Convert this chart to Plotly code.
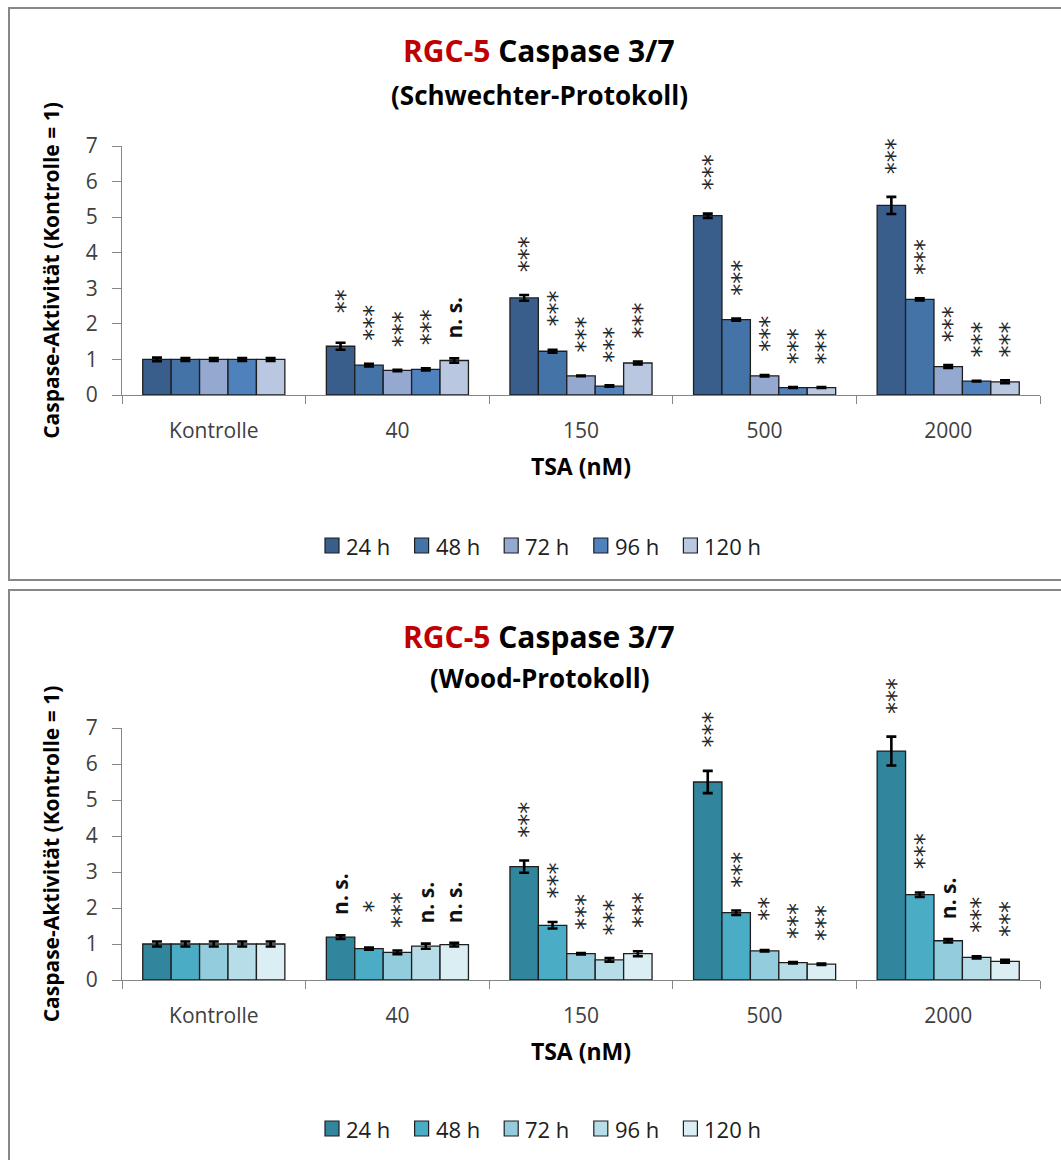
import plotly.graph_objects as go

# --- data -------------------------------------------------------------
doses = ["Kontrolle", "40", "150", "500", "2000"]
times = ["24 h", "48 h", "72 h", "96 h", "120 h"]

# Schwechter protocol: mean activity per time point across doses
schw_vals = {
    "24 h":  [1.0, 1.37, 2.73, 5.04, 5.33],
    "48 h":  [1.0, 0.84, 1.23, 2.12, 2.69],
    "72 h":  [1.0, 0.69, 0.54, 0.54, 0.80],
    "96 h":  [1.0, 0.72, 0.25, 0.21, 0.39],
    "120 h": [1.0, 0.97, 0.90, 0.21, 0.37],
}
schw_err = {
    "24 h":  [0.05, 0.10, 0.08, 0.06, 0.24],
    "48 h":  [0.04, 0.04, 0.04, 0.03, 0.03],
    "72 h":  [0.04, 0.02, 0.01, 0.02, 0.04],
    "96 h":  [0.04, 0.03, 0.02, 0.01, 0.01],
    "120 h": [0.04, 0.06, 0.04, 0.01, 0.04],
}
schw_sig = {
    "24 h":  ["", "**", "***", "***", "***"],
    "48 h":  ["", "***", "***", "***", "***"],
    "72 h":  ["", "***", "***", "***", "***"],
    "96 h":  ["", "***", "***", "***", "***"],
    "120 h": ["", "n. s.", "***", "***", "***"],
}

# Wood protocol
wood_vals = {
    "24 h":  [1.0, 1.19, 3.15, 5.50, 6.36],
    "48 h":  [1.0, 0.87, 1.52, 1.87, 2.37],
    "72 h":  [1.0, 0.77, 0.73, 0.81, 1.09],
    "96 h":  [1.0, 0.94, 0.56, 0.48, 0.63],
    "120 h": [1.0, 0.98, 0.73, 0.44, 0.52],
}
wood_err = {
    "24 h":  [0.07, 0.05, 0.17, 0.31, 0.40],
    "48 h":  [0.07, 0.03, 0.09, 0.06, 0.06],
    "72 h":  [0.07, 0.05, 0.02, 0.02, 0.05],
    "96 h":  [0.07, 0.07, 0.05, 0.02, 0.03],
    "120 h": [0.07, 0.05, 0.07, 0.02, 0.04],
}
wood_sig = {
    "24 h":  ["", "n. s.", "***", "***", "***"],
    "48 h":  ["", "*", "***", "***", "***"],
    "72 h":  ["", "***", "***", "**", "n. s."],
    "96 h":  ["", "n. s.", "***", "***", "***"],
    "120 h": ["", "n. s.", "***", "***", "***"],
}

schw_colors = ["#3A5E8C", "#4473A8", "#95A8D0", "#4F81BD", "#B9C7E1"]
wood_colors = ["#31859C", "#4BACC6", "#93CDDD", "#B7DEE8", "#DAEEF3"]

# --- layout geometry (pixels of the 1061 x 1160 page) ------------------
W, H = 1061, 1160
BARGAP = 0.226
FONT = "Open Sans"
OUTLINE = "#1E1E1E"


def px_x(p):
    return p / W


def px_y(p):
    return 1 - p / H


fig = go.Figure()
annotations = []
shapes = []

panels = [
    # x-axis, y-axis, values, errors, labels, colours, title y, subtitle, legend y
    ("x", "y", schw_vals, schw_err, schw_sig, schw_colors, 50, 95,
     "(Schwechter-Protokoll)", 545.5),
    ("x2", "y2", wood_vals, wood_err, wood_sig, wood_colors, 636, 678,
     "(Wood-Protokoll)", 1128.5),
]

n = len(times)
bw = (1 - BARGAP) / n
for xa, ya, vals, errs, sigs, colors, y_t, y_s, sub, y_leg in panels:
    for i, t in enumerate(times):
        fig.add_trace(go.Bar(
            x=doses, y=vals[t], name=t, xaxis=xa, yaxis=ya, showlegend=False,
            marker=dict(color=colors[i], line=dict(color=OUTLINE, width=1.3)),
            error_y=dict(type="data", array=errs[t], color="black",
                         thickness=2.6, width=5),
        ))
        # significance labels above each bar, rotated to read upwards
        for j, lab in enumerate(sigs[t]):
            if not lab:
                continue
            xc = j - (1 - BARGAP) / 2 + bw * (i + 0.5)
            is_ns = lab == "n. s."
            annotations.append(dict(
                x=xc, y=vals[t][j] + errs[t][j], xref=xa, yref=ya,
                text=lab, showarrow=False, textangle=-90,
                xanchor="center", yanchor="middle",
                yshift=41, xshift=0 if is_ns else 4,
                font=dict(family=FONT if is_ns else "DejaVu Sans",
                          size=21 if is_ns else 24,
                          color="#111111" if is_ns else "#262626",
                          weight="bold" if is_ns else "normal"),
            ))

        # legend entry: outlined swatch followed by its label
        lx = 325 + i * 89.6
        shapes.append(dict(
            type="rect", xref="paper", yref="paper",
            x0=px_x(lx), x1=px_x(lx + 14),
            y0=px_y(y_leg + 7.5), y1=px_y(y_leg - 7.5),
            fillcolor=colors[i], line=dict(color=OUTLINE, width=1.2)))
        annotations.append(dict(
            x=px_x(lx + 19), y=px_y(y_leg), xref="paper", yref="paper",
            text=t, showarrow=False, xanchor="left", yanchor="middle",
            font=dict(family=FONT, size=22, color="#202020")))

    # chart title and subtitle
    annotations.append(dict(
        x=px_x(539), y=px_y(y_t), xref="paper", yref="paper", showarrow=False,
        text="<b><span style='color:#C00000'>RGC-5</span> Caspase 3/7</b>",
        font=dict(family=FONT, size=30, color="black"),
        xanchor="center", yanchor="middle"))
    annotations.append(dict(
        x=px_x(539), y=px_y(y_s), xref="paper", yref="paper", showarrow=False,
        text="<b>" + sub + "</b>",
        font=dict(family=FONT, size=26, color="black"),
        xanchor="center", yanchor="middle"))

axis_font = dict(family=FONT, size=21, color="#404040")
xcommon = dict(
    type="category", showline=True, linecolor="#868686", linewidth=1.3,
    ticks="outside", tickson="boundaries", ticklen=8, tickcolor="#868686",
    tickfont=axis_font, ticklabelstandoff=17, showgrid=False, automargin=False,
    title=dict(text="<b>TSA (nM)</b>", font=dict(family=FONT, size=23, color="black"),
               standoff=15),
    domain=[px_x(122), px_x(1040)], fixedrange=True,
)
ycommon = dict(
    range=[0, 7], dtick=1, showline=True, linecolor="#868686", linewidth=1.3,
    ticks="outside", ticklen=9, tickcolor="#868686", tickfont=axis_font,
    ticklabelstandoff=10, showgrid=False, zeroline=False, automargin=False,
    title=dict(text="<b>Caspase-Aktivität (Kontrolle = 1)</b>",
               font=dict(family=FONT, size=21, color="black"), standoff=20),
)

shapes += [
    dict(type="rect", xref="paper", yref="paper",
         x0=px_x(9), x1=1.05, y0=px_y(580), y1=px_y(8),
         line=dict(color="#878787", width=2)),
    dict(type="rect", xref="paper", yref="paper",
         x0=px_x(9), x1=1.05, y0=-0.05, y1=px_y(590),
         line=dict(color="#878787", width=2)),
]

fig.update_layout(
    width=W, height=H,
    margin=dict(l=0, r=0, t=0, b=0, pad=0, autoexpand=False),
    paper_bgcolor="white", plot_bgcolor="white",
    barmode="group", bargap=BARGAP, bargroupgap=0,
    xaxis=dict(xcommon, anchor="y"),
    yaxis=dict(ycommon, domain=[px_y(395), px_y(146)], anchor="x"),
    xaxis2=dict(xcommon, anchor="y2"),
    yaxis2=dict(ycommon, domain=[px_y(980), px_y(728)], anchor="x2"),
    annotations=annotations,
    shapes=shapes,
    showlegend=False,
)

fig.write_html("out.html")
